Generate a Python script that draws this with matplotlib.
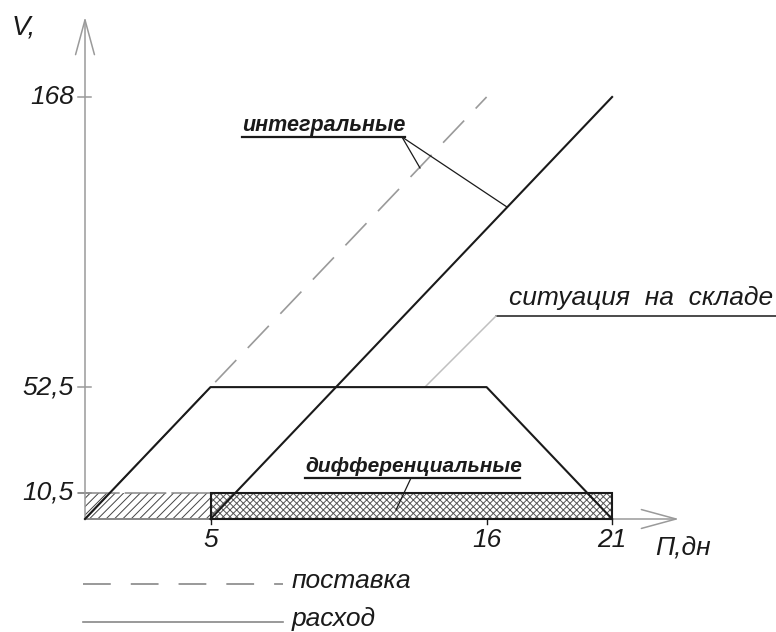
import matplotlib
matplotlib.use("Agg")
import matplotlib.pyplot as plt
from matplotlib.patches import Rectangle

# ---------------- data ----------------
supply_days = [0, 16]
supply_cum = [0, 168]
cons_days = [5, 21]
cons_cum = [0, 168]
stock_days = [0, 5, 16, 21]
stock_vol = [0, 52.5, 52.5, 0]
daily_rate = 10.5
supply_period = [0, 5]
cons_period = [5, 21]
x_ticks = [5, 16, 21]
x_tick_labels = ["5", "16", "21"]
y_ticks = [10.5, 52.5, 168]
y_tick_labels = ["10,5", "52,5", "168"]

# ---------------- style ----------------
FONT = ["Liberation Sans", "DejaVu Sans"]
plt.rcParams["font.family"] = FONT
plt.rcParams["hatch.linewidth"] = 0.7
plt.rcParams["lines.scale_dashes"] = False
BLACK = "#1a1a1a"
GRAY = "#9a9a9a"

W, H, DPI = 776, 632, 100
fig = plt.figure(figsize=(W / DPI, H / DPI), dpi=DPI)
ax = fig.add_axes([0, 0, 1, 1])
ax.set_axis_off()
# pixel scale: 25.1 px per day, 2.512 px per unit of volume, origin at (85, 519)
px_day, px_vol, ox, oy = 25.1, 2.512, 85, 519
ax.set_xlim(-ox / px_day, (W - ox) / px_day)
ax.set_ylim((oy - H) / px_vol, oy / px_vol)

def X(px):
    return (px - ox) / px_day

def Y(py):
    return (oy - py) / px_vol

# ---------------- axes with arrows ----------------
arrow = dict(arrowstyle="->,head_length=2.5,head_width=0.68", mutation_scale=10,
             color=GRAY, lw=1.1, shrinkA=0, shrinkB=0)
ax.annotate("", xy=(0, Y(17)), xytext=(0, 0), arrowprops=arrow)
ax.annotate("", xy=(X(679), 0), xytext=(0, 0), arrowprops=arrow)

for v, lab in zip(y_ticks, y_tick_labels):
    ax.plot([X(78), X(91)], [v, v], color=GRAY, lw=1.1)
    ax.text(X(74), v, lab, ha="right", va="center", fontsize=19, style="italic",
            color=BLACK)
for d, lab in zip(x_ticks, x_tick_labels):
    ax.plot([d, d], [0, Y(524)], color=BLACK, lw=1.0)
    ax.text(d, Y(528), lab, ha="center", va="top", fontsize=19, style="italic",
            color=BLACK)

ax.text(X(12), Y(27), "V,", ha="left", va="center", fontsize=20, style="italic",
        color=BLACK)
ax.text(X(655), Y(547), "П,дн", ha="left", va="center", fontsize=19,
        style="italic", color=BLACK)

# ---------------- differential (daily) rectangles ----------------
ax.add_patch(Rectangle((supply_period[0], 0), supply_period[1] - supply_period[0],
                       daily_rate, facecolor="none", edgecolor="#444444", lw=0,
                       hatch="////", zorder=1))
ax.add_patch(Rectangle((cons_period[0], 0), cons_period[1] - cons_period[0],
                       daily_rate, facecolor="none", edgecolor="#555555", lw=0,
                       hatch="xxxxx", zorder=1))
ax.add_patch(Rectangle((cons_period[0], 0), cons_period[1] - cons_period[0],
                       daily_rate, facecolor="none", edgecolor=BLACK, lw=1.5,
                       zorder=3))
ax.plot(supply_period, [0, 0], color="#444444", lw=1.3, zorder=2)
ax.plot([X(78), supply_period[1]], [daily_rate, daily_rate], color="#888888",
        lw=1.1, dashes=(30, 3.6), zorder=2)

# ---------------- integral curves ----------------
ax.plot(supply_days, supply_cum, color=GRAY, lw=1.2, dashes=(22, 12), zorder=2)
ax.plot(cons_days, cons_cum, color=BLACK, lw=1.5, zorder=4)
ax.plot(stock_days, stock_vol, color=BLACK, lw=1.5, zorder=4)

# ---------------- annotations ----------------
ax.text(X(242), Y(126), "интегральные", ha="left", va="center", fontsize=15.5,
        style="italic", weight="bold", color=BLACK)
ax.plot([X(242), X(405)], [Y(137), Y(137)], color=BLACK, lw=1.6)
ax.plot([X(402), X(420)], [Y(137), Y(168)], color=BLACK, lw=0.9)
ax.plot([X(402), X(507)], [Y(137), Y(207)], color=BLACK, lw=0.9)

ax.text(X(509), Y(298), "ситуация  на  складе", ha="left", va="center",
        fontsize=19, style="italic", color=BLACK)
ax.plot([X(496), X(776)], [Y(316), Y(316)], color=BLACK, lw=1.1)
ax.plot([X(496), X(425)], [Y(316), Y(387)], color="#c0c0c0", lw=1.1)

ax.text(X(305), Y(466), "дифференциальные", ha="left", va="center",
        fontsize=15, style="italic", weight="bold", color=BLACK)
ax.plot([X(305), X(520)], [Y(478), Y(478)], color=BLACK, lw=1.6)
ax.plot([X(411), X(396)], [Y(478), Y(510)], color=BLACK, lw=0.9)

# ---------------- legend ----------------
ax.plot([X(83), X(283)], [Y(584), Y(584)], color="#888888", lw=1.2,
        dashes=(20, 14.4))
ax.text(X(292), Y(581), "поставка", ha="left", va="center", fontsize=19,
        style="italic", color=BLACK)
ax.plot([X(83), X(283)], [Y(622), Y(622)], color="#888888", lw=1.2)
ax.text(X(292), Y(619), "расход", ha="left", va="center", fontsize=19,
        style="italic", color=BLACK)

fig.savefig("out.png", dpi=DPI)
